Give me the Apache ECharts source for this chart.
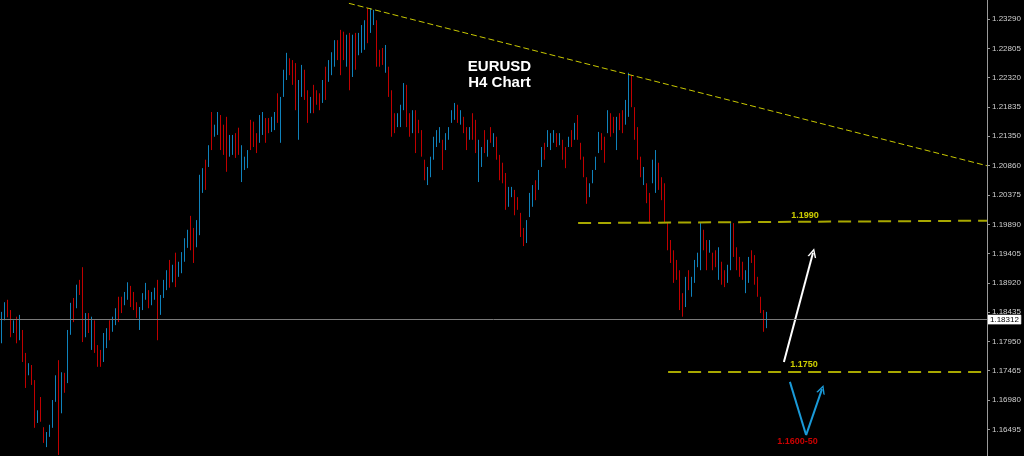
<!DOCTYPE html>
<html>
<head>
<meta charset="utf-8">
<script src="https://cdn.jsdelivr.net/npm/echarts@6/dist/echarts.min.js"></script>
<style>
html,body{margin:0;padding:0;background:#000;}
#chart{width:1024px;height:456px;}
</style>
</head>
<body>
<div id="chart"></div>
<script>
// ---------------- DATA (EURUSD H4) ----------------
const opens = [1.1802,1.1837,1.1859,1.1839,1.1814,1.1827,1.1806,1.1804,1.1764,1.1743,1.1749,1.1715,1.1665,1.1695,1.1648,1.1625,1.1640,1.1662,1.1703,1.1756,
1.1690,1.1736,1.1744,1.1816,1.1859,1.1859,1.1892,1.1889,1.1811,1.1836,1.1792,1.1819,1.1782,1.1776,1.1771,1.1791,1.1824,1.1816,1.1827,1.1860,
1.1864,1.1860,1.1870,1.1880,1.1870,1.1855,1.1822,1.1852,1.1869,1.1874,1.1860,1.1867,1.1887,1.1845,1.1874,1.1887,1.1920,1.1898,1.1930,1.1907,
1.1915,1.1935,1.1956,1.1991,1.1971,1.1960,1.1983,1.2049,1.2086,1.2091,1.2162,1.2137,1.2145,1.2159,1.2144,1.2149,1.2107,1.2110,1.2132,1.2140,
1.2071,1.2084,1.2089,1.2152,1.2150,1.2134,1.2134,1.2145,1.2157,1.2160,1.2147,1.2152,1.2198,1.2162,1.2208,1.2236,1.2259,1.2253,1.2241,1.2198,
1.2210,1.2235,1.2200,1.2178,1.2210,1.2206,1.2201,1.2198,1.2240,1.2231,1.2245,1.2258,1.2288,1.2296,1.2298,1.2259,1.2288,1.2246,1.2294,1.2276,
1.2283,1.2288,1.2336,1.2314,1.2324,1.2312,1.2273,1.2276,1.2250,1.2240,1.2197,1.2167,1.2155,1.2157,1.2187,1.2206,1.2165,1.2149,1.2163,1.2157,
1.2137,1.2089,1.2061,1.2074,1.2104,1.2122,1.2129,1.2119,1.2117,1.2134,1.2162,1.2167,1.2180,1.2159,1.2162,1.2142,1.2134,1.2165,1.2150,1.2096,
1.2091,1.2137,1.2105,1.2145,1.2122,1.2125,1.2096,1.2084,1.2062,1.2024,1.2038,1.2038,1.2029,1.1999,1.1976,1.1966,1.2009,1.2024,1.2056,1.2052,
1.2091,1.2119,1.2122,1.2117,1.2129,1.2135,1.2124,1.2122,1.2110,1.2120,1.2140,1.2134,1.2162,1.2119,1.2094,1.2059,1.2039,1.2062,1.2084,1.2114,
1.2135,1.2125,1.2149,1.2165,1.2162,1.2129,1.2168,1.2170,1.2162,1.2182,1.2226,1.2172,1.2139,1.2094,1.2061,1.2051,1.2031,1.2066,1.2056,1.2082,
1.2059,1.2044,1.1983,1.1955,1.1935,1.1923,1.1900,1.1867,1.1862,1.1907,1.1875,1.1900,1.1923,1.1928,1.1973,1.1953,1.1946,1.1937,1.1942,1.1908,
1.1918,1.1908,1.1898,1.1928,1.1980,1.1943,1.1928,1.1920,1.1884,1.1900,1.1942,1.1928,1.1895,1.1864,1.1844,1.1821];
const highs = [1.1844,1.1860,1.1864,1.1847,1.1830,1.1836,1.1839,1.1814,1.1776,1.1759,1.1756,1.1731,1.1681,1.1703,1.1653,1.1645,1.1657,1.1698,1.1739,1.1764,
1.1744,1.1743,1.1814,1.1859,1.1867,1.1889,1.1897,1.1918,1.1842,1.1842,1.1836,1.1830,1.1789,1.1781,1.1809,1.1817,1.1830,1.1836,1.1850,1.1869,
1.1869,1.1877,1.1893,1.1887,1.1877,1.1860,1.1852,1.1875,1.1892,1.1880,1.1877,1.1884,1.1897,1.1872,1.1897,1.1913,1.1930,1.1922,1.1942,1.1927,
1.1943,1.1966,1.1980,1.2003,1.1983,1.1996,1.2071,1.2082,1.2096,1.2120,1.2175,1.2154,1.2175,1.2170,1.2154,1.2167,1.2137,1.2137,1.2140,1.2149,
1.2120,1.2101,1.2112,1.2162,1.2159,1.2140,1.2170,1.2175,1.2165,1.2165,1.2167,1.2175,1.2206,1.2200,1.2245,1.2273,1.2264,1.2261,1.2256,1.2228,
1.2253,1.2245,1.2211,1.2200,1.2220,1.2211,1.2206,1.2228,1.2250,1.2261,1.2274,1.2294,1.2294,1.2311,1.2308,1.2303,1.2306,1.2303,1.2306,1.2306,
1.2319,1.2327,1.2347,1.2347,1.2344,1.2327,1.2278,1.2281,1.2286,1.2250,1.2211,1.2173,1.2173,1.2187,1.2223,1.2220,1.2173,1.2178,1.2178,1.2162,
1.2145,1.2096,1.2084,1.2101,1.2134,1.2145,1.2150,1.2129,1.2140,1.2150,1.2178,1.2190,1.2187,1.2178,1.2167,1.2150,1.2150,1.2173,1.2162,1.2129,
1.2117,1.2145,1.2129,1.2150,1.2140,1.2134,1.2104,1.2091,1.2074,1.2051,1.2051,1.2046,1.2034,1.2008,1.1983,1.1996,1.2041,1.2054,1.2062,1.2079,
1.2117,1.2124,1.2145,1.2140,1.2145,1.2140,1.2140,1.2129,1.2117,1.2134,1.2145,1.2157,1.2170,1.2124,1.2101,1.2067,1.2057,1.2079,1.2101,1.2142,
1.2140,1.2134,1.2178,1.2173,1.2167,1.2167,1.2173,1.2178,1.2195,1.2240,1.2236,1.2183,1.2150,1.2101,1.2084,1.2057,1.2041,1.2096,1.2112,1.2091,
1.2067,1.2057,1.1991,1.1963,1.1946,1.1930,1.1913,1.1875,1.1902,1.1913,1.1902,1.1930,1.1942,1.1991,1.1980,1.1963,1.1963,1.1942,1.1946,1.1951,
1.1927,1.1913,1.1922,1.1991,1.1991,1.1951,1.1935,1.1927,1.1913,1.1935,1.1946,1.1938,1.1902,1.1869,1.1847,1.1844];
const lows = [1.1792,1.1830,1.1835,1.1802,1.1809,1.1792,1.1797,1.1761,1.1718,1.1739,1.1723,1.1652,1.1660,1.1662,1.1627,1.1620,1.1637,1.1652,1.1695,1.1607,
1.1676,1.1710,1.1726,1.1806,1.1827,1.1850,1.1872,1.1794,1.1802,1.1809,1.1781,1.1776,1.1753,1.1753,1.1761,1.1784,1.1797,1.1811,1.1822,1.1827,
1.1842,1.1855,1.1864,1.1852,1.1847,1.1834,1.1814,1.1847,1.1864,1.1850,1.1855,1.1864,1.1797,1.1839,1.1867,1.1880,1.1884,1.1893,1.1885,1.1902,
1.1908,1.1927,1.1950,1.1946,1.1925,1.1951,1.1971,1.2041,1.2046,1.2084,1.2112,1.2134,1.2137,1.2112,1.2104,1.2076,1.2101,1.2104,1.2099,1.2104,
1.2059,1.2079,1.2082,1.2112,1.2117,1.2107,1.2124,1.2137,1.2124,1.2140,1.2142,1.2145,1.2157,1.2124,1.2200,1.2228,1.2236,1.2220,1.2178,1.2129,
1.2200,1.2195,1.2157,1.2173,1.2173,1.2187,1.2178,1.2190,1.2195,1.2225,1.2236,1.2250,1.2261,1.2236,1.2261,1.2250,1.2211,1.2233,1.2245,1.2269,
1.2273,1.2278,1.2289,1.2306,1.2319,1.2250,1.2250,1.2253,1.2240,1.2200,1.2134,1.2140,1.2150,1.2150,1.2178,1.2150,1.2134,1.2140,1.2107,1.2140,
1.2101,1.2062,1.2054,1.2067,1.2096,1.2117,1.2124,1.2079,1.2112,1.2129,1.2157,1.2162,1.2157,1.2154,1.2140,1.2112,1.2129,1.2129,1.2107,1.2059,
1.2084,1.2107,1.2101,1.2124,1.2117,1.2096,1.2062,1.2057,1.2013,1.2018,1.2034,1.2004,1.2013,1.1968,1.1953,1.1958,1.2001,1.2018,1.2029,1.2046,
1.2084,1.2096,1.2117,1.2112,1.2124,1.2117,1.2120,1.2096,1.2082,1.2117,1.2117,1.2129,1.2129,1.2096,1.2067,1.2023,1.2034,1.2057,1.2079,1.2107,
1.2112,1.2091,1.2140,1.2134,1.2140,1.2112,1.2145,1.2140,1.2154,1.2167,1.2183,1.2129,1.2096,1.2067,1.2054,1.2024,1.1991,1.2057,1.2041,1.2046,
1.2029,1.1991,1.1946,1.1925,1.1892,1.1897,1.1847,1.1836,1.1852,1.1880,1.1869,1.1892,1.1918,1.1913,1.1946,1.1913,1.1942,1.1913,1.1918,1.1897,
1.1889,1.1885,1.1892,1.1913,1.1935,1.1913,1.1902,1.1897,1.1875,1.1892,1.1925,1.1889,1.1869,1.1842,1.1811,1.1817];
const closes = [1.1834,1.1854,1.1840,1.1811,1.1826,1.1801,1.1830,1.1771,1.1729,1.1756,1.1729,1.1668,1.1676,1.1670,1.1632,1.1640,1.1653,1.1688,1.1731,1.1698,
1.1731,1.1716,1.1796,1.1849,1.1836,1.1880,1.1877,1.1817,1.1834,1.1816,1.1824,1.1787,1.1759,1.1758,1.1799,1.1811,1.1804,1.1830,1.1845,1.1836,
1.1847,1.1872,1.1887,1.1859,1.1854,1.1839,1.1844,1.1870,1.1887,1.1857,1.1872,1.1880,1.1855,1.1865,1.1890,1.1907,1.1893,1.1917,1.1897,1.1922,
1.1937,1.1958,1.1973,1.1958,1.1937,1.1988,1.2059,1.2074,1.2056,1.2114,1.2125,1.2150,1.2167,1.2124,1.2114,1.2094,1.2130,1.2130,1.2107,1.2112,
1.2109,1.2096,1.2105,1.2122,1.2125,1.2114,1.2160,1.2167,1.2132,1.2145,1.2162,1.2168,1.2165,1.2195,1.2236,1.2264,1.2241,1.2228,1.2195,1.2218,
1.2243,1.2205,1.2168,1.2195,1.2183,1.2192,1.2183,1.2220,1.2205,1.2255,1.2266,1.2286,1.2268,1.2251,1.2271,1.2293,1.2230,1.2289,1.2256,1.2299,
1.2309,1.2317,1.2301,1.2339,1.2339,1.2264,1.2255,1.2258,1.2276,1.2210,1.2149,1.2147,1.2168,1.2180,1.2215,1.2163,1.2142,1.2170,1.2122,1.2145,
1.2109,1.2069,1.2077,1.2094,1.2125,1.2140,1.2145,1.2089,1.2135,1.2145,1.2173,1.2185,1.2163,1.2173,1.2145,1.2120,1.2145,1.2137,1.2119,1.2120,
1.2110,1.2115,1.2124,1.2129,1.2135,1.2104,1.2071,1.2064,1.2024,1.2044,1.2047,1.2013,1.2018,1.1976,1.1960,1.1988,1.2033,1.2047,1.2036,1.2072,
1.2110,1.2101,1.2140,1.2135,1.2140,1.2122,1.2137,1.2102,1.2089,1.2130,1.2122,1.2152,1.2137,1.2101,1.2074,1.2031,1.2052,1.2074,1.2096,1.2135,
1.2117,1.2099,1.2170,1.2142,1.2145,1.2159,1.2150,1.2149,1.2187,1.2225,1.2193,1.2140,1.2107,1.2074,1.2077,1.2031,1.2001,1.2087,1.2097,1.2054,
1.2038,1.2004,1.1955,1.1933,1.1903,1.1903,1.1860,1.1844,1.1892,1.1887,1.1895,1.1922,1.1937,1.1976,1.1953,1.1923,1.1958,1.1918,1.1923,1.1940,
1.1897,1.1890,1.1915,1.1976,1.1946,1.1922,1.1908,1.1903,1.1905,1.1927,1.1930,1.1898,1.1875,1.1847,1.1817,1.18312];

// window holds this many H4 bars (the right part is empty future space)
const windowBars = 329;
const priceTicks = [1.23290,1.22805,1.22320,1.21835,1.21350,1.20860,1.20375,1.19890,1.19405,1.18920,1.18435,1.17950,1.17465,1.16980,1.16495];
const priceMin = 1.16053, priceMax = 1.23605;
const lastPrice = 1.18312;

// drawn objects, positions in [bar index, price]
const trendLine = [[116.3, 1.2355], [329, 1.2086]];
const resistLine = [[192.7, 1.1991], [329, 1.1995]];
const supportLine = [[222.7, 1.1745], [329, 1.1745]];
const whiteArrow = [[261.3, 1.1761], [271.0, 1.1942]];
const blueV = [[263.3, 1.1728], [268.7, 1.1640], [274.0, 1.1716]];
const noteTexts = ['1.1990', '1.1750', '1.1600-50'];
const notePos = [[268.3, 1.2003], [268.0, 1.1757], [265.8, 1.1630]];
const noteColors = ['#ffff00', '#ffff00', '#ff0000'];
const titleLines = ['EURUSD', 'H4 Chart'];

// ---------------- CHART ----------------
const categories = Array.from({length: windowBars}, (_, i) => String(i));
const candles = opens.map((o, i) => [o, closes[i], lows[i], highs[i]]);

const chevron = 'path://M5,0 L10,10 L8.2,10 L5,3.2 L1.8,10 L0,10 Z';
const chart = echarts.init(document.getElementById('chart'), null, {renderer: 'canvas'});

chart.setOption({
  backgroundColor: '#000000',
  animation: false,
  grid: {left: 0, right: 37, top: 0, bottom: 0, containLabel: false},
  xAxis: [
    {type: 'category', data: categories, show: false, boundaryGap: true},
    {type: 'value', min: 0, max: windowBars, show: false}
  ],
  yAxis: {
    type: 'value', position: 'right', min: priceMin, max: priceMax, scale: true,
    axisLine: {show: true, onZero: false, lineStyle: {color: '#9a9a9a', width: 1}},
    axisTick: {show: true, inside: false, length: 3, customValues: priceTicks, lineStyle: {color: '#9a9a9a'}},
    axisLabel: {show: true, customValues: priceTicks, margin: 5, color: '#d0d0d0', fontSize: 8,
      fontFamily: 'Liberation Sans', formatter: v => v.toFixed(5)},
    splitLine: {show: false}
  },
  graphic: [{
    type: 'text', x: 499.5, y: 59, z: 100,
    style: {text: titleLines.join('\n'), fill: '#ffffff', font: 'bold 15px "Liberation Sans"', lineHeight: 16, align: 'center', verticalAlign: 'top'}
  }],
  series: [
    {
      type: 'candlestick', name: 'EURUSD', xAxisIndex: 0, yAxisIndex: 0,
      data: candles, barWidth: 1,
      itemStyle: {color: '#0f82bc', color0: '#c00000', borderColor: '#0f82bc', borderColor0: '#c00000', borderWidth: 1}
    },
    {
      type: 'line', name: 'drawings', xAxisIndex: 1, yAxisIndex: 0, data: [], clip: false, silent: true,
      markLine: {
        silent: true, symbol: 'none', animation: false, precision: 5,
        data: [
          [{coord: trendLine[0], lineStyle: {color: '#c8c800', width: 1, type: [6, 3]}}, {coord: trendLine[1]}],
          [{coord: resistLine[0], lineStyle: {color: '#a8a800', width: 2, type: [13, 7]}}, {coord: resistLine[1]}],
          [{coord: supportLine[0], lineStyle: {color: '#a8a800', width: 2, type: [13, 7]}}, {coord: supportLine[1]}],
          [{coord: whiteArrow[0], symbol: 'none', lineStyle: {color: '#ffffff', width: 2, type: 'solid'}},
           {coord: whiteArrow[1], symbol: chevron, symbolSize: [9, 9]}],
          [{coord: blueV[0], symbol: 'none', lineStyle: {color: '#1a9ad8', width: 2, type: 'solid'}},
           {coord: blueV[1], symbol: 'none'}],
          [{coord: blueV[1], symbol: 'none', lineStyle: {color: '#1a9ad8', width: 2, type: 'solid'}},
           {coord: blueV[2], symbol: chevron, symbolSize: [9, 9]}],
          {yAxis: lastPrice, lineStyle: {color: '#7a7a7a', width: 1, type: 'solid'},
           label: {show: true, position: 'end', distance: 1, formatter: lastPrice.toFixed(5),
             color: '#000000', backgroundColor: '#ffffff', borderColor: '#9a9a9a', borderWidth: 0.5,
             padding: [1, 2, 0, 2], fontSize: 8, fontFamily: 'Liberation Sans'}}
        ],
        label: {show: false}
      }
    },
    {
      type: 'scatter', name: 'notes', xAxisIndex: 1, yAxisIndex: 0, symbolSize: 0, silent: true, clip: false,
      data: notePos.map((p, i) => ({value: p, name: noteTexts[i],
        label: {show: true, position: 'inside', formatter: noteTexts[i], color: noteColors[i],
          fontSize: 9, fontWeight: 'bold', fontFamily: 'Liberation Sans'}}))
    }
  ]
});
</script>
</body>
</html>
